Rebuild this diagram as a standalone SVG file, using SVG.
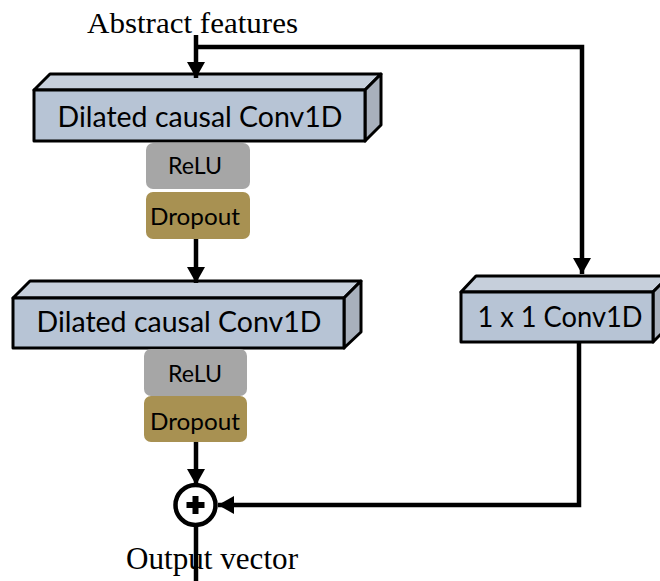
<svg xmlns="http://www.w3.org/2000/svg" width="660" height="581" viewBox="0 0 660 581">
  <defs>
    <style>
      .front { fill: #b7c4d5; stroke: #000; stroke-width: 3; stroke-linejoin: round; }
      .top { fill: #c6cfdb; stroke: #000; stroke-width: 3; stroke-linejoin: round; }
      .side { fill: #a8b0bc; stroke: #000; stroke-width: 3; stroke-linejoin: round; }
      .relu { fill: #a6a6a6; }
      .drop { fill: #a89152; }
      .lbl { font-family: Lato, "Open Sans", "DejaVu Sans", sans-serif; fill: #000; text-anchor: middle; }
      .serif { font-family: "Liberation Serif", "Times New Roman", serif; fill: #000; }
      .wire { fill: none; stroke: #000; stroke-width: 4.5; stroke-linejoin: miter; }
    </style>
    <marker id="head" markerUnits="userSpaceOnUse" markerWidth="18" markerHeight="18" viewBox="0 0 16 18" refX="16" refY="9" orient="auto">
      <path d="M0,0 L16,9 L0,18 Z" fill="#000"/>
    </marker>
  </defs>

  <rect width="660" height="581" fill="#fff"/>

  <!-- outer labels -->
  <text class="serif" x="87" y="33" font-size="30" textLength="211" lengthAdjust="spacingAndGlyphs">Abstract features</text>
  <text class="serif" x="126" y="569" font-size="31" textLength="172" lengthAdjust="spacingAndGlyphs">Output vector</text>

  <!-- first dilated convolution block -->
  <g id="conv1">
    <polygon class="top" points="34,90 50,74 381,74 365,90"/>
    <polygon class="side" points="365,90 381,74 381,125 365,141"/>
    <rect class="front" x="34" y="90" width="331" height="51"/>
    <text class="lbl" x="200" y="127" font-size="28.5" textLength="285" lengthAdjust="spacingAndGlyphs">Dilated causal Conv1D</text>
  </g>
  <g id="relu1">
    <rect class="relu" x="146" y="143" width="104" height="46" rx="7"/>
    <text class="lbl" x="195" y="174" font-size="24" textLength="54" lengthAdjust="spacingAndGlyphs">ReLU</text>
  </g>
  <g id="dropout1">
    <rect class="drop" x="146" y="192" width="104" height="47" rx="7"/>
    <text class="lbl" x="195" y="225" font-size="24" textLength="90" lengthAdjust="spacingAndGlyphs">Dropout</text>
  </g>

  <!-- second dilated convolution block -->
  <g id="conv2">
    <polygon class="top" points="13,298 30,281 361,281 344,298"/>
    <polygon class="side" points="344,298 361,281 361,332 344,348"/>
    <rect class="front" x="13" y="298" width="331" height="50"/>
    <text class="lbl" x="179" y="332" font-size="28.5" textLength="285" lengthAdjust="spacingAndGlyphs">Dilated causal Conv1D</text>
  </g>
  <g id="relu2">
    <rect class="relu" x="144" y="349" width="103" height="47" rx="7"/>
    <text class="lbl" x="195" y="382" font-size="24" textLength="54" lengthAdjust="spacingAndGlyphs">ReLU</text>
  </g>
  <g id="dropout2">
    <rect class="drop" x="144" y="396" width="103" height="46" rx="7"/>
    <text class="lbl" x="195" y="430" font-size="24" textLength="90" lengthAdjust="spacingAndGlyphs">Dropout</text>
  </g>

  <!-- residual 1x1 convolution -->
  <g id="conv1x1">
    <polygon class="top" points="461,292 476,276 669,276 653,292"/>
    <polygon class="side" points="653,292 669,276 669,326 653,342"/>
    <rect class="front" x="461" y="292" width="192" height="50"/>
    <text class="lbl" x="560" y="327" font-size="28.5" textLength="165" lengthAdjust="spacingAndGlyphs">1 x 1 Conv1D</text>
  </g>

  <!-- summation node -->
  <g id="sum">
    <circle cx="195.5" cy="505" r="20" fill="#fff" stroke="#000" stroke-width="4.5"/>
    <rect x="186.5" y="502" width="18" height="6" fill="#000"/>
    <rect x="192.5" y="496" width="6" height="18" fill="#000"/>
  </g>

  <!-- connectors -->
  <g id="connectors">
    <path class="wire" d="M196,35 V78" marker-end="url(#head)"/>
    <path class="wire" d="M196,47 H582 V274" marker-end="url(#head)"/>
    <path class="wire" d="M196,239 V283" marker-end="url(#head)"/>
    <path class="wire" d="M196,442 V485" marker-end="url(#head)"/>
    <path class="wire" d="M579,342 V505 H218" marker-end="url(#head)"/>
    <path class="wire" d="M196,525 V581"/>
  </g>
</svg>
